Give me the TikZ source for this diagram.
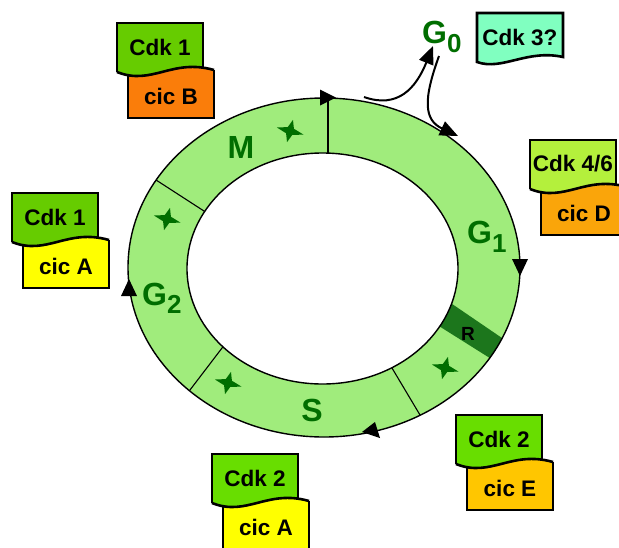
\documentclass[tikz,border=0pt]{standalone}
\usepackage{fontspec}
\setmainfont{Liberation Sans}
\usetikzlibrary{arrows.meta}

\definecolor{ringgreen}{RGB}{160,236,124}
\definecolor{phasegreen}{RGB}{0,110,0}
\definecolor{rband}{RGB}{28,118,28}
\definecolor{cdkone}{RGB}{102,204,0}
\definecolor{cdktwo}{RGB}{104,222,0}
\definecolor{cdkfoursix}{RGB}{180,240,60}
\definecolor{cdkthree}{RGB}{128,255,192}
\definecolor{cicB}{RGB}{250,125,10}
\definecolor{cicA}{RGB}{255,255,0}
\definecolor{cicD}{RGB}{250,165,10}
\definecolor{cicE}{RGB}{255,198,0}

\tikzset{
  tagline/.style={draw=black, line width=2.6pt, line join=miter},
  tagtext/.style={font=\fontsize{22.5}{22.5}\selectfont\bfseries, inner sep=0pt},
  phase/.style={font=\fontsize{32}{32}\selectfont\bfseries, text=phasegreen, inner sep=0pt},
  regionlbl/.style={font=\fontsize{19}{19}\selectfont\bfseries, inner sep=0pt},
  ringline/.style={draw=black, line width=1.4pt},
  divider/.style={draw=black, line width=1.1pt},
  g0arrow/.style={draw=black, line width=2pt, -{Triangle[length=18pt,width=15pt]}},
}

% four-pointed checkpoint star
\newcommand\sparkle[2]{%
  \fill[phasegreen, shift={(#1,#2)}, rotate=-15]
    (0,-11.5) -- (3.2,-3.2) -- (14,0) -- (3.2,3.2) -- (0,11.5)
    -- (-3.2,3.2) -- (-13.5,0) -- (-3.2,-3.2) -- cycle;}

% Cdk tag with its cyclin tag underneath, sharing one wavy edge
% #1,#2 top-left corner, #3/#4 colours, #5/#6 texts, #7 name prefix
\newcommand\cdkpair[7]{%
  \begin{scope}[shift={(#1,#2)}]
    \begin{scope}
      \clip (-6,49) -- (0,49) .. controls (35,63) and (55,35) .. (97,47)
        -- (103,47) -- (103,130) -- (-6,130) -- cycle;
      \filldraw[tagline, fill=#4] (11,30) rectangle (97,95);
    \end{scope}
    \begin{scope}
      \clip (-6,49) -- (0,49) .. controls (35,63) and (55,35) .. (97,47)
        -- (103,47) -- (103,-6) -- (-6,-6) -- cycle;
      \filldraw[tagline, fill=#3] (0,0) rectangle (86,70);
    \end{scope}
    \draw[tagline] (0,49) .. controls (35,63) and (55,35) .. (97,47);
    \node[tagtext] (#7top) at (43,24) {#5};
    \node[tagtext] (#7bot) at (54,73.5) {#6};
  \end{scope}}

\begin{document}
\begin{tikzpicture}[x=1pt, y=-1pt]
  \useasboundingbox (0,0) rectangle (619,547);

  % ring
  \fill[ringgreen] (324,267.5) ellipse [x radius=196, y radius=169.5];
  \begin{scope}
    \clip (324,267.5) ellipse [x radius=196, y radius=169.5];
    \fill[rband] (436,293) -- (524,353) -- (512,372) -- (423,316) -- cycle;
    \draw[divider] (328,90) -- (328,160);
    \draw[divider] (146,173.5) -- (214,217.5);
    \draw[divider] (185,396.5) -- (227,341.5);
    \draw[divider] (389,363) -- (423,420);
  \end{scope}
  \filldraw[ringline, fill=white] (322.5,268.5) ellipse [x radius=135.5, y radius=115.5];
  \draw[ringline] (324,267.5) ellipse [x radius=196, y radius=169.5];

  % direction of the cycle
  \fill (320,89.5) -- (336,97.5) -- (320,105.5) -- cycle;
  \fill (512,259) -- (528,259) -- (520,276) -- cycle;
  \fill (375,422) -- (362,432) -- (380,438) -- cycle;
  \fill (121,296) -- (129,279) -- (137,296) -- cycle;

  % checkpoints
  \sparkle{290}{131}
  \sparkle{167}{219}
  \sparkle{228}{383}
  \sparkle{445}{368}

  % phase labels
  \node[phase] (lblM) at (241,147) {M};
  \node[phase] (lblS) at (312,410) {S};
  \node[phase, anchor=base west] (lblGone) at (467,243)
    {G\raisebox{-9pt}{\fontsize{26}{26}\selectfont 1}};
  \node[phase, anchor=base west] (lblGtwo) at (142,305)
    {G\raisebox{-8pt}{\fontsize{26}{26}\selectfont 2}};
  \node[phase, anchor=base west] (lblGzero) at (422,43)
    {G\raisebox{-9pt}{\fontsize{26}{26}\selectfont 0}};
  \node[regionlbl] (lblR) at (468,334) {R};

  % exit to and return from G0
  \coordinate (ringexit) at (364,97);
  \coordinate (gzeroin) at (433,46);
  \coordinate (gzeroout) at (439,56);
  \coordinate (ringentry) at (458,136);
  \draw[g0arrow] (ringexit) .. controls (398,109) and (416,88) .. (gzeroin);
  \draw[g0arrow] (gzeroout) .. controls (423,100) and (424,120) .. (ringentry);

  % Cdk 3? tag
  \filldraw[tagline, fill=cdkthree] (477,62) -- (477,13) -- (563,13) -- (563,57)
    .. controls (527,49) and (502,71) .. (477,62) -- cycle;
  \node[tagtext] (cdkthreetxt) at (520,37) {Cdk 3?};

  % Cdk/cyclin pairs
  \cdkpair{117}{23}{cdkone}{cicB}{Cdk 1}{cic B}{mtag}
  \cdkpair{12}{193}{cdkone}{cicA}{Cdk 1}{cic A}{gtwotag}
  \cdkpair{530}{140}{cdkfoursix}{cicD}{Cdk 4/6}{cic D}{gonetag}
  \cdkpair{456}{415}{cdktwo}{cicE}{Cdk 2}{cic E}{gonestag}
  \cdkpair{212}{454}{cdktwo}{cicA}{Cdk 2}{cic A}{stag}
\end{tikzpicture}
\end{document}
